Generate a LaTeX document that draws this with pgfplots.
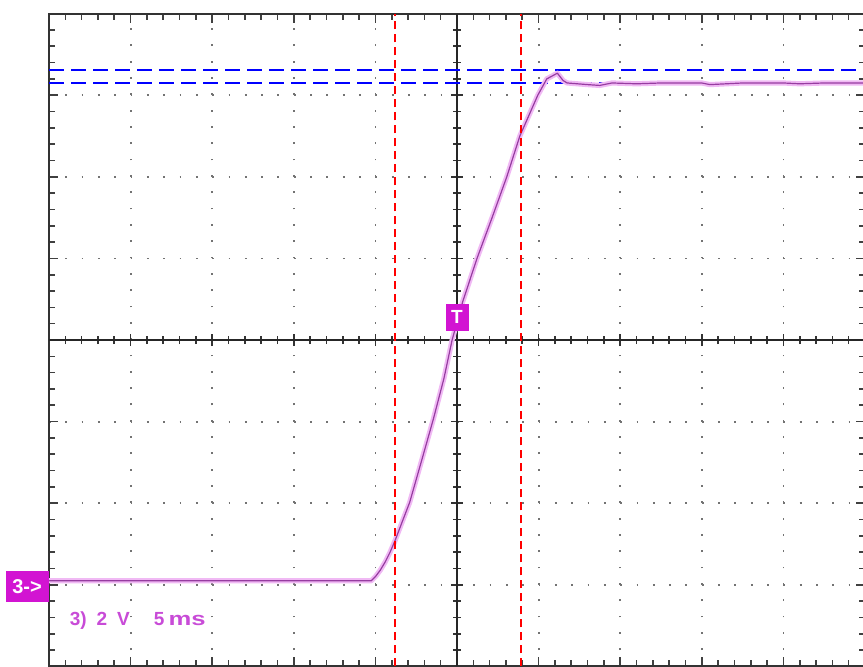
\documentclass[border=0pt]{standalone}
\usepackage{pgfplots}
\pgfplotsset{compat=1.18}
\usepackage{fontspec}
\setmainfont{Liberation Sans}
\definecolor{trlight}{RGB}{240,185,244}
\definecolor{trdark}{RGB}{150,60,160}
\definecolor{mag}{RGB}{210,20,210}
\definecolor{labmag}{RGB}{200,75,215}
\begin{document}
\begin{tikzpicture}
\useasboundingbox (0,0) rectangle (431.5pt,333pt);
\begin{axis}[
  at={(24.5pt,-0.2pt)}, anchor=south west,
  width=408pt, height=326.4pt, scale only axis,
  xmin=-5, xmax=5, ymin=-4, ymax=4,
  xtick={-5,...,5}, ytick={-4,...,4},
  minor x tick num=4, minor y tick num=4,
  xticklabels={}, yticklabels={},
  tick align=inside, xtick pos=both, ytick pos=both,
  major tick length=4.5pt, minor tick length=3pt,
  tick style={black!75, line width=0.8pt},
  axis line style={black!80, line width=1pt},
  grid=major,
  grid style={black!55, line width=0.9pt, dash pattern=on 0.9pt off 7.26pt},
]
\addplot[draw=none] coordinates {(0,0)};
\end{axis}
\begin{axis}[
  at={(24.5pt,-0.2pt)}, anchor=south west,
  width=408pt, height=326.4pt, scale only axis,
  xmin=-5, xmax=5, ymin=-4, ymax=4,
  axis lines=middle, axis line style={-, black!85, line width=1pt},
  xtick={-5,...,5}, ytick={-4,...,4},
  minor x tick num=4, minor y tick num=4,
  xticklabels={}, yticklabels={},
  tick align=center, major tick length=6pt, minor tick length=4pt,
  tick style={black!80, line width=0.8pt},
  clip=false,
]
% blue cursors
\addplot[blue, line width=1pt, dash pattern=on 7.5pt off 3.5pt] coordinates {(-5,3.31) (5,3.31)};
\addplot[blue, line width=1pt, dash pattern=on 7.5pt off 3.5pt] coordinates {(-5,3.15) (5,3.15)};
% trace
\addplot[trlight, line width=2.6pt, line join=round] coordinates {
(-5,-2.95) (-3,-2.95) (-1.05,-2.95) (-1.0,-2.9) (-0.94,-2.82) (-0.88,-2.72) (-0.82,-2.6)
(-0.76,-2.46) (-0.68,-2.25) (-0.58,-1.99) (-0.44,-1.5) (-0.29,-0.97) (-0.16,-0.47)
(-0.06,0) (0.07,0.47) (0.245,1.0) (0.43,1.5) (0.61,2.0) (0.77,2.5) (0.99,3.0) (1.1,3.2)
(1.23,3.27) (1.3,3.18) (1.35,3.15) (1.6,3.13) (1.75,3.12) (1.9,3.15) (2.2,3.14)
(2.5,3.15) (3.0,3.15) (3.1,3.13) (3.5,3.15) (4.0,3.15) (4.2,3.14) (4.5,3.15) (5,3.15)};
\addplot[trdark, line width=0.6pt, line join=round] coordinates {
(-5,-2.95) (-3,-2.95) (-1.05,-2.95) (-1.0,-2.9) (-0.94,-2.82) (-0.88,-2.72) (-0.82,-2.6)
(-0.76,-2.46) (-0.68,-2.25) (-0.58,-1.99) (-0.44,-1.5) (-0.29,-0.97) (-0.16,-0.47)
(-0.06,0) (0.07,0.47) (0.245,1.0) (0.43,1.5) (0.61,2.0) (0.77,2.5) (0.99,3.0) (1.1,3.2)
(1.23,3.27) (1.3,3.18) (1.35,3.15) (1.6,3.13) (1.75,3.12) (1.9,3.15) (2.2,3.14)
(2.5,3.15) (3.0,3.15) (3.1,3.13) (3.5,3.15) (4.0,3.15) (4.2,3.14) (4.5,3.15) (5,3.15)};
% red cursors
\addplot[red, line width=1pt, dash pattern=on 4pt off 2.5pt] coordinates {(-0.76,-4) (-0.76,4)};
\addplot[red, line width=1pt, dash pattern=on 4pt off 2.5pt] coordinates {(0.78,-4) (0.78,4)};
% markers
\node[fill=mag, text=white, minimum width=11.5pt, minimum height=13.5pt, inner sep=0pt,
  font=\bfseries\fontsize{9.5}{10}\selectfont] at (axis cs:0,0.28) {T};
\node[fill=mag, text=white, minimum width=21.5pt, minimum height=15.5pt, inner sep=0pt,
  anchor=east, font=\bfseries\fontsize{10}{11}\selectfont] at (axis cs:-5,-3.02) {3->};
\node[text=labmag, anchor=west, inner sep=0pt, font=\bfseries\fontsize{9.5}{11}\selectfont]
  at (axis cs:-4.75,-3.44) {3)\hspace{5pt}2\hspace{5pt}V\hspace{12pt}5\hspace{2pt}\scalebox{1.35}[1]{ms}};
\end{axis}
\end{tikzpicture}
\end{document}
